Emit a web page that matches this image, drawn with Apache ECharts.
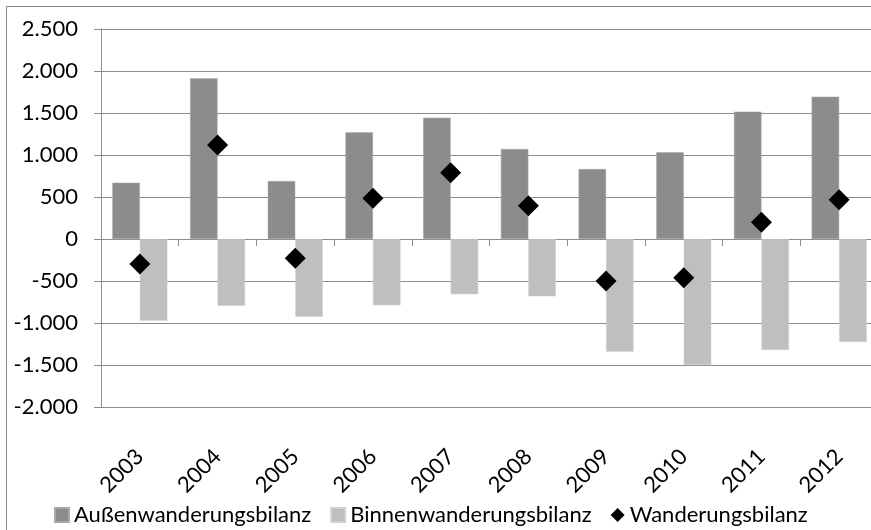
<!DOCTYPE html>
<html>
<head>
<meta charset="utf-8">
<script src="https://cdn.jsdelivr.net/npm/echarts@6/dist/echarts.min.js"></script>
<style>html,body{margin:0;padding:0;background:#fff}#c{width:871px;height:530px}</style>
</head>
<body>
<div id="c"></div>
<script>
const years = ['2003','2004','2005','2006','2007','2008','2009','2010','2011','2012'];
const aussen = [670, 1913, 690, 1270, 1444, 1071, 833, 1032, 1516, 1694];
const binnen = [-972, -794, -925, -790, -659, -683, -1341, -1500, -1321, -1226];
const gesamt = [-298, 1119, -230, 484, 790, 397, -500, -460, 198, 468];
const seriesNames = ['Außenwanderungsbilanz', 'Binnenwanderungsbilanz', 'Wanderungsbilanz'];

const FONT = 'Lato';
const chart = echarts.init(document.getElementById('c'), null, {renderer: 'canvas'});
chart.setOption({
  animation: false,
  backgroundColor: '#fff',
  textStyle: {fontFamily: FONT},
  graphic: [{
    type: 'rect', left: 4, top: 4, silent: true,
    shape: {width: 900, height: 560},
    style: {fill: 'none', stroke: '#868686', lineWidth: 1}
  }],
  grid: {left: 101, width: 777, top: 29, height: 378, containLabel: false, outerBoundsMode: 'none'},
  legend: {
    left: 49, top: 499, itemGap: 19, itemWidth: 14, itemHeight: 14,
    textStyle: {fontFamily: FONT, fontSize: 22, color: '#000'},
    data: [
      {name: seriesNames[0], icon: 'rect'},
      {name: seriesNames[1], icon: 'rect'},
      {name: seriesNames[2], icon: 'diamond'}
    ]
  },
  xAxis: [{
    type: 'category', data: years, position: 'bottom',
    axisLine: {onZero: false, show: false},
    axisTick: {show: false},
    axisLabel: {rotate: 45, margin: 46, fontFamily: FONT, fontSize: 22, color: '#000', interval: 0}
  }, {
    type: 'category', data: years, position: 'bottom',
    axisLine: {onZero: true, show: true, lineStyle: {color: '#8c8c8c', width: 1}},
    axisTick: {show: true, length: 7, lineStyle: {color: '#8c8c8c'}},
    axisLabel: {show: false}
  }],
  yAxis: {
    type: 'value', min: -2000, max: 2500, interval: 500,
    axisLine: {show: true, lineStyle: {color: '#8c8c8c'}},
    axisTick: {show: true, length: 7, lineStyle: {color: '#8c8c8c'}},
    splitLine: {show: true, lineStyle: {color: '#8c8c8c', width: 1}},
    axisLabel: {
      margin: 23, fontFamily: FONT, fontSize: 22, color: '#000',
      formatter: v => {
        const s = Math.abs(v).toString().replace(/\B(?=(\d{3})+(?!\d))/g, '.');
        return (v < 0 ? '-' : '') + s;
      }
    }
  },
  series: [{
    name: seriesNames[0], type: 'bar', data: aussen, xAxisIndex: 0,
    barWidth: 27.5, barGap: '0%',
    itemStyle: {color: '#8c8c8c', borderColor: '#a8a8a8', borderWidth: 0.5}
  }, {
    name: seriesNames[1], type: 'bar', data: binnen, xAxisIndex: 0,
    barWidth: 27.5, barGap: '0%',
    itemStyle: {color: '#bfbfbf', borderColor: '#d0d0d0', borderWidth: 0.5}
  }, {
    name: seriesNames[2], type: 'scatter', data: gesamt, xAxisIndex: 0,
    symbol: 'diamond', symbolSize: [21, 21],
    itemStyle: {color: '#000', opacity: 1}, z: 5
  }]
});
</script>
</body>
</html>
